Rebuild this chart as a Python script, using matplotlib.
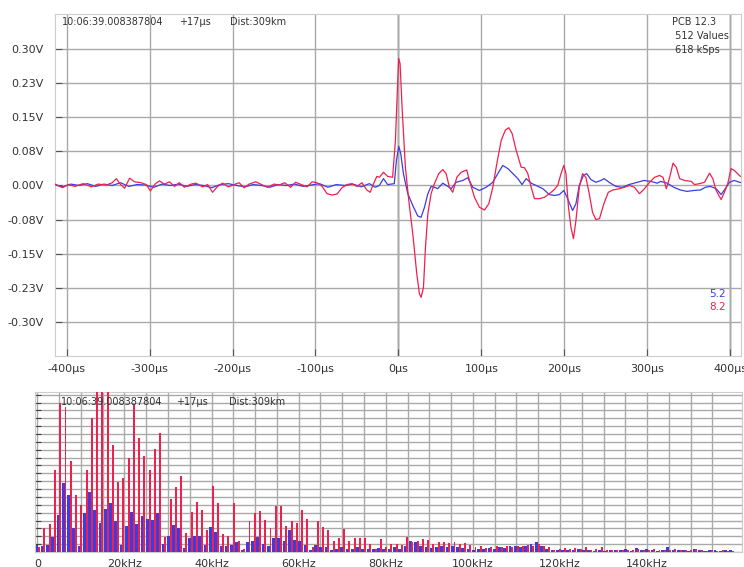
import matplotlib.pyplot as plt
import numpy as np

# ---- waveform (time in us, volts) ----
red_time = [-414, -405, -398, -390, -380, -370, -362, -352, -345, -340,
            -335, -330, -324, -318, -310, -304, -299, -293, -288, -282,
            -276, -270, -264, -258, -250, -244, -236, -230, -224, -218,
            -212, -205, -198, -192, -186, -180, -172, -165, -158, -150,
            -144, -137, -130, -124, -117, -110, -104, -98, -92, -86,
            -80, -74, -68, -62, -56, -50, -44, -38, -34, -30,
            -26, -23, -18, -13, -7, -3.6, -0.8, 0.4, 2, 4.4,
            8.4, 12.5, 17.3, 22.1, 25.3, 27.4, 30.2, 32.6, 35.5, 39.4,
            43.4, 48.6, 53.5, 57.5, 61.5, 65.5, 70.4, 75.6, 82.4, 85.6,
            91.7, 97.7, 103.8, 109, 113.8, 118.6, 123.9, 129, 133.1, 137.1,
            142, 148, 152, 156, 160, 164, 170, 176, 182, 188,
            192, 196, 199.4, 202, 205, 208, 211, 214, 218, 222,
            226, 230, 234, 238, 242.4, 247.7, 253, 258.5, 266.5, 272.5,
            278.6, 284.6, 290.6, 296.7, 302.8, 308.8, 314.8, 318.9, 323, 327,
            331, 335, 339, 345, 353, 357, 363, 369, 375, 379,
            383, 389, 393, 397, 401, 405, 411, 414]
red_volt = [0.003, -0.005, 0.002, -0.002, 0.004, -0.003, 0.003, 0.001, 0.006, 0.015,
            0.002, -0.006, 0.016, 0.008, 0.006, 0.002, -0.012, 0.004, 0.010, 0.003,
            0.008, -0.002, 0.006, -0.004, 0.003, 0.005, -0.003, 0.002, -0.015, -0.002,
            0.005, -0.003, 0.002, 0.006, -0.005, 0.003, 0.008, 0.002, -0.004, 0.003,
            0.001, 0.006, -0.004, 0.007, 0.002, -0.003, 0.008, 0.006, -0.002, -0.018,
            -0.021, -0.019, -0.005, 0.002, 0.004, -0.002, 0.006, -0.010, -0.015, 0.004,
            0.020, 0.018, 0.029, 0.020, 0.018, 0.099, 0.231, 0.279, 0.268, 0.172,
            0.040, -0.033, -0.106, -0.194, -0.238, -0.246, -0.224, -0.136, -0.062, -0.018,
            0.004, 0.026, 0.035, 0.026, -0.004, -0.015, 0.018, 0.029, 0.034, 0.011,
            -0.026, -0.048, -0.054, -0.040, -0.004, 0.048, 0.099, 0.122, 0.127, 0.114,
            0.077, 0.040, 0.039, 0.026, -0.004, -0.029, -0.029, -0.026, -0.018, -0.009,
            0.000, 0.026, 0.044, 0.026, -0.048, -0.092, -0.117, -0.077, -0.004, 0.026,
            0.018, -0.018, -0.059, -0.075, -0.073, -0.040, -0.015, -0.010, -0.007, -0.004,
            0.000, -0.004, -0.018, -0.007, 0.007, 0.018, 0.022, 0.018, -0.007, 0.018,
            0.049, 0.040, 0.015, 0.011, 0.009, 0.002, 0.004, 0.007, 0.027, 0.015,
            -0.011, -0.031, -0.015, 0.004, 0.037, 0.033, 0.022, 0.018]

blue_time = [-414, -405, -395, -385, -375, -365, -355, -345, -335, -325,
             -315, -305, -295, -285, -275, -265, -255, -245, -235, -225,
             -215, -205, -195, -185, -175, -165, -155, -145, -135, -125,
             -115, -105, -95, -85, -75, -65, -55, -45, -35, -28,
             -23, -18, -13, -5, -2.4, 0.4, 2.8, 6, 11.3, 17.3,
             23.3, 27.3, 31.4, 35.5, 39.4, 43.4, 47.4, 53.5, 59.5, 63.6,
             69.5, 77.6, 83.6, 89.6, 97.7, 105.7, 113.8, 119.8, 125.8, 132,
             138, 144, 149, 154, 160, 166, 174, 182, 188, 194,
             199.4, 204, 210, 214, 218, 223, 227, 232, 238, 244,
             248, 254, 262, 270, 278, 288, 296, 304, 312, 316,
             324, 332, 340, 348, 356, 364, 370, 376, 383, 389,
             394, 399, 405, 411, 414]
blue_volt = [0.002, -0.003, 0.003, 0.000, 0.004, -0.002, 0.003, 0.000, 0.006, -0.002,
             0.002, 0.001, -0.004, 0.003, 0.000, 0.003, -0.002, 0.002, 0.000, -0.005,
             0.002, 0.004, 0.000, -0.003, 0.002, 0.000, -0.004, 0.002, 0.000, 0.003,
             -0.002, 0.001, 0.004, -0.004, 0.002, 0.000, 0.003, -0.003, 0.004, -0.004,
             0.000, 0.015, 0.002, 0.004, 0.055, 0.086, 0.070, 0.026, -0.018, -0.044,
             -0.067, -0.070, -0.048, -0.018, -0.002, -0.004, -0.007, 0.005, -0.002, -0.007,
             0.007, 0.011, 0.017, -0.004, -0.011, -0.004, 0.007, 0.026, 0.044, 0.037,
             0.026, 0.015, 0.002, 0.015, 0.005, 0.000, -0.007, -0.020, -0.022, -0.020,
             -0.011, -0.029, -0.055, -0.040, 0.000, 0.022, 0.026, 0.013, 0.007, 0.011,
             0.015, 0.007, -0.002, -0.004, 0.002, 0.007, 0.011, 0.009, 0.005, 0.009,
             0.005, -0.004, -0.010, -0.013, -0.011, -0.010, -0.004, -0.002, -0.007, -0.020,
             -0.007, 0.007, 0.011, 0.007, 0.006]

time_ticks = [-400, -300, -200, -100, 0, 100, 200, 300, 400]
time_labels = ['-400µs', '-300µs', '-200µs', '-100µs', '0µs', '100µs', '200µs', '300µs', '400µs']
volt_ticks = [0.30, 0.225, 0.15, 0.075, 0.0, -0.075, -0.15, -0.225, -0.30]
volt_labels = ['0.30V', '0.23V', '0.15V', '0.08V', '0.00V', '-0.08V', '-0.15V', '-0.23V', '-0.30V']

# ---- spectrum (relative magnitude per FFT bin, bin k = 1..133) ----
bin_khz = 618.0 / 512
red_fft = [0.03, 0.15, 0.177, 0.51, 0.93, 0.906, 0.569, 0.354, 0.293, 0.515,
           0.84, 1.05, 1.05, 1.05, 0.668, 0.436, 0.463, 0.588, 0.922, 0.714,
           0.60, 0.512, 0.643, 0.741, 0.095, 0.33, 0.405, 0.475, 0.12, 0.25,
           0.315, 0.262, 0.135, 0.413, 0.305, 0.115, 0.097, 0.304, 0.07, 0.02,
           0.195, 0.243, 0.259, 0.197, 0.152, 0.285, 0.285, 0.165, 0.194, 0.18,
           0.265, 0.204, 0.03, 0.195, 0.158, 0.138, 0.066, 0.085, 0.143, 0.068,
           0.085, 0.089, 0.09, 0.048, 0.02, 0.078, 0.03, 0.05, 0.05, 0.045,
           0.095, 0.06, 0.07, 0.08, 0.075, 0.05, 0.06, 0.065, 0.055, 0.06,
           0.05, 0.055, 0.045, 0.03, 0.04, 0.025, 0.03, 0.035, 0.03, 0.04,
           0.03, 0.04, 0.035, 0.045, 0.04, 0.05, 0.035, 0.03, 0.015, 0.02,
           0.025, 0.02, 0.025, 0.02, 0.03, 0.015, 0.02, 0.03, 0.01, 0.015,
           0.01, 0.01, 0.015, 0.01, 0.02, 0.01, 0.01, 0.02, 0.015, 0.01,
           0.01, 0.02, 0.01, 0.015, 0.01, 0.02, 0.01, 0.005, 0.01, 0.005,
           0.01, 0.008, 0.005]
blue_fft = [0.045, 0.04, 0.046, 0.095, 0.231, 0.432, 0.356, 0.148, 0.035, 0.242,
            0.378, 0.262, 0.183, 0.269, 0.307, 0.196, 0.044, 0.16, 0.25, 0.178,
            0.228, 0.206, 0.197, 0.244, 0.052, 0.098, 0.17, 0.15, 0.025, 0.088,
            0.098, 0.10, 0.046, 0.156, 0.125, 0.04, 0.04, 0.045, 0.063, 0.01,
            0.063, 0.07, 0.094, 0.052, 0.036, 0.088, 0.088, 0.07, 0.136, 0.073,
            0.067, 0.046, 0.01, 0.046, 0.03, 0.03, 0.01, 0.02, 0.03, 0.017,
            0.017, 0.03, 0.02, 0.017, 0.017, 0.025, 0.02, 0.02, 0.03, 0.02,
            0.04, 0.07, 0.065, 0.04, 0.03, 0.025, 0.03, 0.04, 0.03, 0.035,
            0.03, 0.025, 0.02, 0.015, 0.02, 0.02, 0.025, 0.02, 0.03, 0.025,
            0.035, 0.04, 0.03, 0.035, 0.05, 0.06, 0.04, 0.02, 0.01, 0.015,
            0.01, 0.015, 0.01, 0.02, 0.01, 0.01, 0.005, 0.01, 0.005, 0.01,
            0.015, 0.01, 0.02, 0.005, 0.025, 0.015, 0.02, 0.01, 0.005, 0.015,
            0.03, 0.01, 0.015, 0.01, 0.005, 0.02, 0.01, 0.005, 0.01, 0.015,
            0.005, 0.01, 0.01]
freq_ticks = [0, 20, 40, 60, 80, 100, 120, 140]
freq_labels = ['0', '20kHz', '40kHz', '60kHz', '80kHz', '100kHz', '120kHz', '140kHz']

RED = '#f0204e'
BLUE = '#3a3ee0'
GRID = '#a9a9a9'
TXT = '#333333'

fig = plt.figure(figsize=(7.44, 5.67), dpi=100)

# ---- top: time domain ----
ax = fig.add_axes([0.0739, 0.3721, 0.9221, 0.6032])
ax.set_xlim(-414, 413)
ax.set_ylim(-0.375, 0.377)
ax.set_xticks(time_ticks)
ax.set_xticklabels(time_labels)
ax.set_yticks(volt_ticks)
ax.set_yticklabels(volt_labels)
ax.grid(True, color=GRID, linewidth=1.0)
ax.axvline(0, color='#555555', linewidth=1.0, zorder=1)
ax.axvline(400, color='#666666', linewidth=1.0, zorder=1)
ax.tick_params(direction='in', length=5, color='#555555', labelsize=8,
               labelcolor=TXT)
ax.tick_params(axis='y', pad=8)
ax.tick_params(axis='x', pad=6)
for s in ax.spines.values():
    s.set_color('#cccccc')

ax.plot(blue_time, blue_volt, color=BLUE, linewidth=0.9, zorder=3)
ax.plot(red_time, red_volt, color=RED, linewidth=0.9, zorder=4)

ax.text(0.0102, 0.9766, '10:06:39.008387804', transform=ax.transAxes, fontsize=7, color=TXT, va='center')
ax.text(0.181, 0.9766, '+17µs', transform=ax.transAxes, fontsize=7, color=TXT, va='center')
ax.text(0.255, 0.9766, 'Dist:309km', transform=ax.transAxes, fontsize=7, color=TXT, va='center')
ax.text(0.899, 0.9766, 'PCB 12.3', transform=ax.transAxes, fontsize=7, color=TXT, va='center')
ax.text(0.899, 0.9357, ' 512 Values', transform=ax.transAxes, fontsize=7, color=TXT, va='center')
ax.text(0.899, 0.8947, ' 618 kSps', transform=ax.transAxes, fontsize=7, color=TXT, va='center')
ax.text(0.953, 0.181, '5.2', transform=ax.transAxes, fontsize=7.5, color=BLUE, va='center')
ax.text(0.953, 0.143, '8.2', transform=ax.transAxes, fontsize=7.5, color=RED, va='center')

# ---- bottom: spectrum ----
ax2 = fig.add_axes([0.047, 0.0265, 0.9503, 0.2821])
k = np.arange(1, len(red_fft) + 1)
f = k * bin_khz
ax2.bar(f - 1.3, blue_fft, width=0.65, color=BLUE, zorder=3, linewidth=0, antialiased=False)
ax2.bar(f - 0.78, red_fft, width=0.45, color=RED, zorder=4, linewidth=0, antialiased=False)
ax2.set_xlim(-0.55, 161.8)
ax2.set_ylim(0, 1.0)
ax2.set_xticks(np.arange(0, 160, 5))
ax2.set_xticklabels([freq_labels[freq_ticks.index(v)] if v in freq_ticks else '' for v in range(0, 160, 5)])
ax2.set_yticks(np.linspace(0, 0.983, 21))
ax2.set_yticklabels([])
ax2.grid(True, color=GRID, linewidth=1.0, zorder=0)
ax2.set_axisbelow(True)
ax2.tick_params(axis='x', length=0, labelsize=8, labelcolor=TXT, pad=5)
ax2.tick_params(axis='y', direction='in', length=4, color='#444444')
for s in ax2.spines.values():
    s.set_color('#cccccc')

ax2.text(0.0368, 0.9375, '10:06:39.008387804', transform=ax2.transAxes, fontsize=7, color=TXT, va='center', zorder=6)
ax2.text(0.2, 0.9375, '+17µs', transform=ax2.transAxes, fontsize=7, color=TXT, va='center', zorder=6)
ax2.text(0.274, 0.9375, 'Dist:309km', transform=ax2.transAxes, fontsize=7, color=TXT, va='center', zorder=6)

fig.savefig('out.png', dpi=100)
